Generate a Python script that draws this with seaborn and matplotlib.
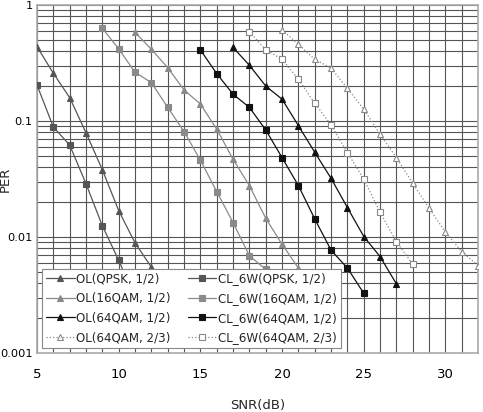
import pandas as pd
import matplotlib
matplotlib.use('Agg')
import matplotlib.pyplot as plt
import numpy as np
import seaborn as sns
from matplotlib.ticker import LogLocator, FixedLocator, NullFormatter

# SNR points (dB) and PER values
snr_ol_qpsk = [5, 6, 7, 8, 9, 10, 11, 12]
per_ol_qpsk = [0.437, 0.258, 0.159, 0.079, 0.038, 0.0169, 0.0089, 0.0055]

snr_ol_16qam = [11, 12, 13, 14, 15, 16, 17, 18, 19, 20, 21]
per_ol_16qam = [0.58, 0.415, 0.288, 0.185, 0.14, 0.085, 0.0468, 0.0277, 0.0145, 0.00865, 0.0054]

snr_ol_64qam = [17, 18, 19, 20, 21, 22, 23, 24, 25, 26, 27]
per_ol_64qam = [0.43, 0.302, 0.2, 0.154, 0.091, 0.0537, 0.032, 0.0179, 0.0101, 0.00677, 0.00394]

snr_ol_64qam23 = [20, 21, 22, 23, 24, 25, 26, 27, 28, 29, 30, 31, 32]
per_ol_64qam23 = [0.61, 0.458, 0.34, 0.285, 0.191, 0.126, 0.0768, 0.0483, 0.029, 0.0177, 0.011, 0.00747, 0.00566]

snr_cl_qpsk = [5, 6, 7, 8, 9, 10, 11]
per_cl_qpsk = [0.204, 0.0888, 0.062, 0.0288, 0.0125, 0.0063, 0.003]

snr_cl_16qam = [9, 10, 11, 12, 13, 14, 15, 16, 17, 18, 19, 20]
per_cl_16qam = [0.63, 0.418, 0.263, 0.214, 0.131, 0.081, 0.046, 0.0246, 0.0133, 0.0069, 0.00526, 0.003]

snr_cl_64qam = [15, 16, 17, 18, 19, 20, 21, 22, 23, 24, 25]
per_cl_64qam = [0.41, 0.256, 0.17, 0.131, 0.0836, 0.0483, 0.0277, 0.0143, 0.0077, 0.0054, 0.00327]

snr_cl_64qam23 = [18, 19, 20, 21, 22, 23, 24, 25, 26, 27, 28]
per_cl_64qam23 = [0.589, 0.41, 0.34, 0.229, 0.142, 0.0924, 0.0533, 0.0316, 0.0163, 0.0091, 0.00582]

series = [
    ('OL(QPSK, 1/2)', snr_ol_qpsk, per_ol_qpsk, '#555555', '^', '-', True),
    ('OL(16QAM, 1/2)', snr_ol_16qam, per_ol_16qam, '#8a8a8a', '^', '-', True),
    ('OL(64QAM, 1/2)', snr_ol_64qam, per_ol_64qam, '#111111', '^', '-', True),
    ('OL(64QAM, 2/3)', snr_ol_64qam23, per_ol_64qam23, '#888888', '^', ':', False),
    ('CL_6W(QPSK, 1/2)', snr_cl_qpsk, per_cl_qpsk, '#555555', 's', '-', True),
    ('CL_6W(16QAM, 1/2)', snr_cl_16qam, per_cl_16qam, '#8a8a8a', 's', '-', True),
    ('CL_6W(64QAM, 1/2)', snr_cl_64qam, per_cl_64qam, '#111111', 's', '-', True),
    ('CL_6W(64QAM, 2/3)', snr_cl_64qam23, per_cl_64qam23, '#888888', 's', ':', False),
]

sns.set_style('white')
plt.rcParams['font.family'] = ['Liberation Sans Narrow', 'DejaVu Sans']

fig = plt.figure(figsize=(4.83, 4.12), dpi=100)
ax = fig.add_axes([0.0766, 0.143, 0.9134, 0.845])

for label, x, y, color, marker, ls, filled in series:
    df = pd.DataFrame({'SNR': x, 'PER': y})
    sns.lineplot(data=df, x='SNR', y='PER', ax=ax, color=color, linestyle=ls,
                 linewidth=0.9, marker=marker, markersize=4.5,
                 markerfacecolor=color if filled else 'white',
                 markeredgecolor=color, markeredgewidth=0.8,
                 label=label, zorder=3)

ax.set_yscale('log')
ax.set_xlim(5, 32)
ax.set_ylim(0.001, 1)

ax.xaxis.set_major_locator(FixedLocator([5, 10, 15, 20, 25, 30]))
ax.xaxis.set_minor_locator(FixedLocator(np.arange(5, 33, 1)))
ax.yaxis.set_major_locator(FixedLocator([0.001, 0.01, 0.1, 1]))
ax.yaxis.set_major_formatter(plt.FixedFormatter(['0.001', '0.01', '0.1', '1']))
ax.yaxis.set_minor_locator(LogLocator(base=10, subs=np.arange(2, 10), numticks=20))
ax.yaxis.set_minor_formatter(NullFormatter())

ax.grid(True, which='both', color='#555555', linewidth=0.8)
ax.set_axisbelow(True)
ax.tick_params(axis='both', which='both', direction='in', length=3, width=0.8,
               color='#555555', labelsize=9.5, labelcolor='black')
ax.tick_params(axis='x', which='major', pad=11)
ax.tick_params(axis='y', which='major', labelsize=8.2, pad=3)
for sp in ax.spines.values():
    sp.set_color('#aaaaaa')
    sp.set_linewidth(1.2)

ax.set_xlabel('SNR(dB)', fontsize=9.5, labelpad=13)
ax.set_ylabel('PER', fontsize=9.5)
ax.yaxis.set_label_coords(-0.057, 0.5)

leg = ax.legend(loc='lower left', ncol=2, fontsize=8.6, frameon=True, fancybox=False,
                handlelength=2.4, handletextpad=0.15, columnspacing=1.4,
                labelspacing=0.55, borderpad=0.3, borderaxespad=0.45)
leg.get_frame().set_edgecolor('#888888')
leg.get_frame().set_linewidth(0.8)
leg.get_frame().set_alpha(1)

fig.savefig('out.png', dpi=100)
